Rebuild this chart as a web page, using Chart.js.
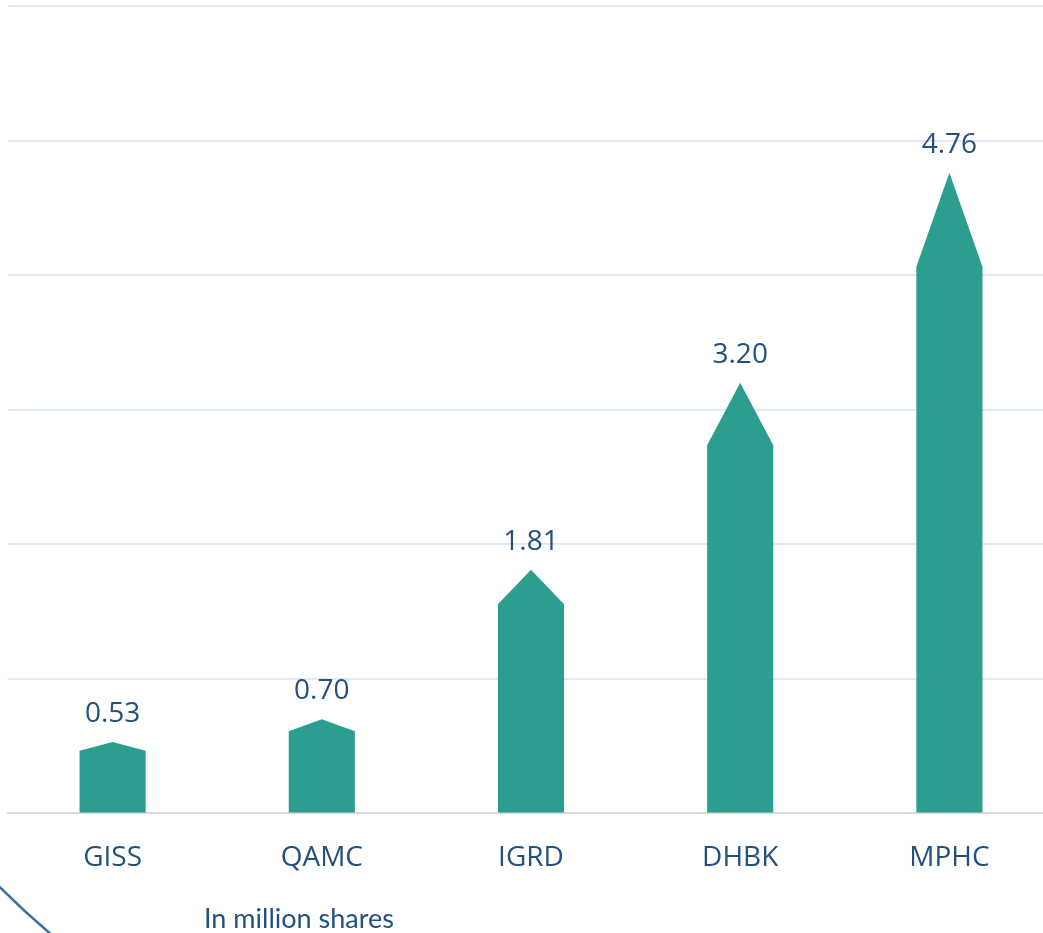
<!DOCTYPE html>
<html>
<head>
<meta charset="utf-8">
<script src="https://cdn.jsdelivr.net/npm/chart.js@4"></script>
<style>
  html, body { margin: 0; padding: 0; background: #fff; overflow: hidden; }
  #wrap { position: absolute; left: 0; top: 0; width: 1060px; height: 933px; }
</style>
</head>
<body>
<div id="wrap"><canvas id="sharesChart" width="1060" height="933"></canvas></div>
<script>
const companies = ['GISS', 'QAMC', 'IGRD', 'DHBK', 'MPHC'];
const volumes = [0.53, 0.70, 1.81, 3.20, 4.76];
const unitNote = 'In million shares';

const barColor = '#2b9e8f';
const textColor = '#24507e';

// arrow-topped bars + value labels
const arrowBars = {
  id: 'arrowBars',
  afterDatasetsDraw(chart) {
    const ctx = chart.ctx;
    const meta = chart.getDatasetMeta(0);
    ctx.save();
    meta.data.forEach(function(bar, i) {
      const p = bar.getProps(['x', 'y', 'base', 'width'], true);
      const h = p.base - p.y;
      const head = Math.max(0, 0.15 * h - 2);
      const l = p.x - p.width / 2, r = p.x + p.width / 2;
      ctx.fillStyle = barColor;
      ctx.beginPath();
      ctx.moveTo(l, p.base);
      ctx.lineTo(l, p.y + head);
      ctx.lineTo(p.x, p.y);
      ctx.lineTo(r, p.y + head);
      ctx.lineTo(r, p.base);
      ctx.closePath();
      ctx.fill();

      ctx.fillStyle = textColor;
      ctx.font = '28px "Open Sans"';
      ctx.textAlign = 'center';
      ctx.textBaseline = 'alphabetic';
      ctx.fillText(volumes[i].toFixed(2), p.x, p.y - 20);
    });
    ctx.restore();
  },
  afterDraw(chart) {
    const ctx = chart.ctx;
    ctx.save();
    ctx.fillStyle = textColor;
    ctx.font = '27px Lato';
    ctx.textAlign = 'left';
    ctx.textBaseline = 'alphabetic';
    ctx.fillText(unitNote, 204, 928);

    // decorative circle edge, bottom left
    ctx.strokeStyle = '#3a6c9c';
    ctx.lineWidth = 2.5;
    ctx.beginPath();
    ctx.arc(560, 330, 790, 0, Math.PI * 2);
    ctx.stroke();
    ctx.restore();
  }
};

const ctx = document.getElementById('sharesChart').getContext('2d');
new Chart(ctx, {
  type: 'bar',
  data: {
    labels: companies,
    datasets: [{
      data: volumes,
      backgroundColor: 'rgba(0,0,0,0)',
      borderWidth: 0,
      categoryPercentage: 1,
      barPercentage: 0.316
    }]
  },
  options: {
    responsive: false,
    animation: false,
    layout: { padding: { left: 8, right: 6, top: 6, bottom: 30 } },
    plugins: {
      legend: { display: false },
      tooltip: { enabled: false }
    },
    scales: {
      x: {
        grid: { display: false, drawTicks: false },
        border: { display: true, color: '#d9d9d9', width: 2 },
        ticks: {
          color: textColor,
          font: { family: 'Open Sans', size: 28 },
          padding: 28,
          maxRotation: 0
        }
      },
      y: {
        min: 0,
        max: 6,
        grid: {
          drawTicks: false,
          lineWidth: 2,
          color: function(c) { return c.tick && c.tick.value === 0 ? 'rgba(0,0,0,0)' : '#dfeaf5'; }
        },
        border: { display: false },
        ticks: { display: false, stepSize: 1 }
      }
    }
  },
  plugins: [arrowBars]
});
</script>
</body>
</html>
